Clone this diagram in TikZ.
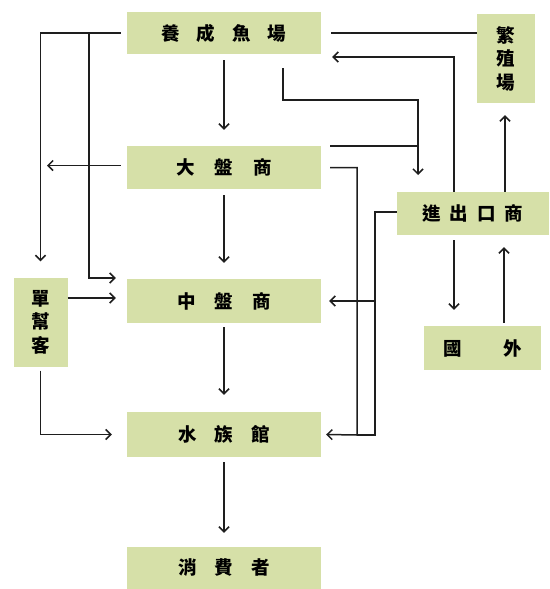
\documentclass[tikz,border=0pt]{standalone}
\usepackage{fontspec}
\newfontfamily\cjk{Noto Sans CJK TC}
\usetikzlibrary{arrows.meta}
\definecolor{boxgreen}{RGB}{214,224,168}
\definecolor{ink}{RGB}{30,30,30}
\begin{document}
\begin{tikzpicture}[x=1pt,y=-1pt,
  box/.style={fill=boxgreen, draw=none, inner sep=0pt, align=center,
    font=\cjk\bfseries\fontsize{18.5pt}{23.5pt}\selectfont},
  link/.style={draw=ink, line width=1.5pt, -{Straight Barb[length=5pt,width=10pt]}},
  plain/.style={draw=ink, line width=1.5pt}]
\useasboundingbox (0,0) rectangle (549,589);

% boxes
\node[box, minimum width=194pt, minimum height=42pt] (yc) at (224,33) {養\hspace{17pt}成\hspace{17pt}魚\hspace{17pt}場};
\node[box, minimum width=58pt, minimum height=89pt] (fz) at (506,58.5) {繁\\殖\\場};
\node[box, minimum width=194pt, minimum height=43pt] (dp) at (224,167.5) {大\hspace{20pt}盤\hspace{20pt}商};
\node[box, minimum width=152pt, minimum height=43pt] (jc) at (473,213.5) {進\hspace{9pt}出\hspace{9pt}口\hspace{9pt}商};
\node[box, minimum width=54pt, minimum height=89pt] (dz) at (40.5,322) {單\\幫\\客};
\node[box, minimum width=194pt, minimum height=44pt] (zp) at (224,301) {中\hspace{19pt}盤\hspace{19pt}商};
\node[box, minimum width=117pt, minimum height=44pt] (gw) at (482.5,348) {國\hspace{42pt}外};
\node[box, minimum width=194pt, minimum height=45pt] (sz) at (224,434.5) {水\hspace{18pt}族\hspace{18pt}館};
\node[box, minimum width=194pt, minimum height=42pt] (xf) at (224,568) {消\hspace{18pt}費\hspace{18pt}者};

% helper coordinates
\coordinate (b1) at (89,33);
\coordinate (s3) at (dz.east |- 0,298);
\coordinate (t6) at (47,165.5);
\coordinate (m10) at (418,100);
\coordinate (t10) at (418,175);
\coordinate (j10) at (418,146);
\coordinate (r14) at (357,435);
\coordinate (r15) at (375,435);
\coordinate (b15) at (375,301);

% left side
\draw[link] ([xshift=-6pt]yc.west) -| ([yshift=16pt]dz.north);
\draw[link] (b1) |- ([xshift=-11pt,yshift=23pt]zp.west);
\draw[link, shorten >=11pt] (s3) -- (zp.west |- s3);
\draw[link] ([yshift=-4pt]dz.south) |- ([xshift=-15pt]sz.west);
\draw[link] ([xshift=-6pt,yshift=2pt]dp.west) -- (t6);

% main column
\draw[link] ([yshift=-6pt]yc.south) -- ([yshift=16pt]dp.north);
\draw[link] ([yshift=-6pt]dp.south) -- ([yshift=16pt]zp.north);
\draw[link] ([yshift=-4pt]zp.south) -- ([yshift=17pt]sz.north);
\draw[link] ([yshift=-5pt]sz.south) -- ([yshift=14pt]xf.north);

% to importer / exporter
\draw[link] ([xshift=59pt,yshift=-14pt]yc.south) |- (m10) -- (t10);
\draw[plain] ([xshift=9pt,yshift=21.5pt]dp.east) -- (j10);
\draw[link] ([xshift=-19pt]jc.north) |- ([xshift=11pt,yshift=-24pt]yc.east);
\draw[plain] (fz.west |- yc.east) -- ([xshift=10pt]yc.east);
\draw[link] ([xshift=32pt]jc.north) -- ([xshift=-1pt,yshift=-12pt]fz.south);

% right-hand returns
\draw[link] ([xshift=9pt]dp.east) -| (r14) -- ([xshift=5pt]sz.east);
\draw[plain] ([yshift=1.5pt]jc.west) -| (r15) -- (r14);
\draw[link] (b15) -- ([xshift=8pt]zp.east);

% abroad
\draw[link] ([xshift=-19pt,yshift=-5pt]jc.south) -- ([xshift=-28.5pt,yshift=16pt]gw.north);
\draw[link] ([xshift=21.5pt,yshift=3pt]gw.north) -- ([xshift=31pt,yshift=-12pt]jc.south);
\end{tikzpicture}
\end{document}
